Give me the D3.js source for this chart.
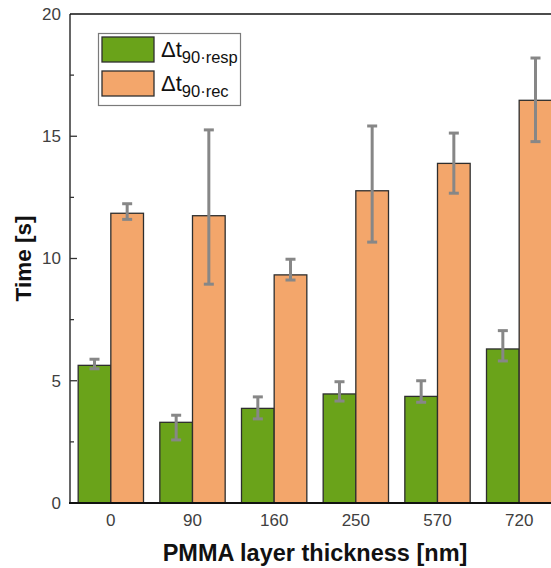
<!DOCTYPE html>
<html>
<head>
<meta charset="utf-8">
<script src="https://cdn.jsdelivr.net/npm/d3@7"></script>
<style>
  html, body { margin: 0; padding: 0; background: #fff; }
  svg { display: block; }
</style>
</head>
<body>
<svg id="chart" width="551" height="568"></svg>
<script>
// PMMA layer thickness (nm)
const categories = ["0", "90", "160", "250", "570", "720"];
const seriesNames = ["resp", "rec"];

// Δt90 response time (s) with lower/upper error limits
const respValues = [5.63, 3.30, 3.87, 4.46, 4.36, 6.30];
const respLow    = [5.49, 2.58, 3.44, 4.17, 4.12, 5.81];
const respHigh   = [5.88, 3.59, 4.34, 4.96, 5.00, 7.05];

// Δt90 recovery time (s) with lower/upper error limits
const recValues  = [11.85, 11.75, 9.33, 12.77, 13.89, 16.47];
const recLow     = [11.60, 8.95, 9.12, 10.67, 12.67, 14.78];
const recHigh    = [12.24, 15.26, 9.97, 15.42, 15.13, 18.20];

const yMajorTicks = [0, 5, 10, 15, 20];
const yMinorTicks = [2.5, 7.5, 12.5, 17.5];

const colors = { resp: "#6aa31a", rec: "#f3a66b" };

const svg = d3.select("#chart");
const plotLeft = 70, plotTop = 14, plotBottom = 503, plotRight = 560;

const x = d3.scaleBand().domain(categories).range([plotLeft, plotRight])
  .paddingInner(0.2).paddingOuter(0.1);
const xs = d3.scaleBand().domain(seriesNames).range([0, x.bandwidth()]);
const y = d3.scaleLinear().domain([0, 20]).range([plotBottom, plotTop]);

const rows = categories.map((c, i) => ({
  cat: c,
  resp: { v: respValues[i], lo: respLow[i], hi: respHigh[i] },
  rec:  { v: recValues[i],  lo: recLow[i],  hi: recHigh[i] }
}));

// bars
const groups = svg.append("g").selectAll("g").data(rows).join("g")
  .attr("transform", d => `translate(${x(d.cat)},0)`);

groups.selectAll("rect").data(d => seriesNames.map(s => ({ s, ...d[s] }))).join("rect")
  .attr("x", d => xs(d.s))
  .attr("width", xs.bandwidth())
  .attr("y", d => y(d.v))
  .attr("height", d => y(0) - y(d.v))
  .attr("fill", d => colors[d.s])
  .attr("stroke", "#2e2e2e")
  .attr("stroke-width", 1.3);

// error bars
const eb = groups.selectAll("g.err").data(d => seriesNames.map(s => ({ s, ...d[s] }))).join("g")
  .attr("class", "err")
  .attr("transform", d => `translate(${xs(d.s) + xs.bandwidth() / 2},0)`)
  .attr("stroke", "#878787").attr("stroke-width", 3);
eb.append("line").attr("y1", d => y(d.lo)).attr("y2", d => y(d.hi));
eb.append("line").attr("x1", -5).attr("x2", 5).attr("y1", d => y(d.lo)).attr("y2", d => y(d.lo));
eb.append("line").attr("x1", -5).attr("x2", 5).attr("y1", d => y(d.hi)).attr("y2", d => y(d.hi));

// frame: left axis, bottom axis, top border
svg.append("line").attr("x1", plotLeft).attr("x2", plotLeft).attr("y1", y(20)).attr("y2", y(0))
  .attr("stroke", "#333").attr("stroke-width", 1.5);
svg.append("line").attr("x1", plotLeft).attr("x2", 551).attr("y1", y(20)).attr("y2", y(20))
  .attr("stroke", "#111").attr("stroke-width", 1.5);
svg.append("line").attr("x1", plotLeft - 1).attr("x2", 551).attr("y1", y(0)).attr("y2", y(0))
  .attr("stroke", "#111").attr("stroke-width", 2);

// y ticks pointing inward
svg.append("g").selectAll("line.maj").data(yMajorTicks.slice(1, -1)).join("line")
  .attr("x1", plotLeft).attr("x2", plotLeft + 7).attr("y1", d => y(d)).attr("y2", d => y(d))
  .attr("stroke", "#333").attr("stroke-width", 1.3);
svg.append("g").selectAll("line.min").data(yMinorTicks).join("line")
  .attr("x1", plotLeft).attr("x2", plotLeft + 4).attr("y1", d => y(d)).attr("y2", d => y(d))
  .attr("stroke", "#333").attr("stroke-width", 1.3);

// y tick labels
svg.append("g").selectAll("text").data(yMajorTicks).join("text")
  .attr("x", 61).attr("y", d => y(d)).attr("dy", "0.35em")
  .attr("text-anchor", "end")
  .attr("font-family", "Liberation Sans, Arial, sans-serif")
  .attr("font-size", 17).attr("fill", "#404040")
  .text(d => d);

// x tick labels
svg.append("g").selectAll("text").data(categories).join("text")
  .attr("x", d => x(d) + x.bandwidth() / 2).attr("y", 525.5)
  .attr("text-anchor", "middle")
  .attr("font-family", "Liberation Sans, Arial, sans-serif")
  .attr("font-size", 17).attr("fill", "#404040")
  .text(d => d);

// axis titles
svg.append("text").attr("x", 315).attr("y", 561)
  .attr("text-anchor", "middle")
  .attr("font-family", "Liberation Sans, Arial, sans-serif")
  .attr("font-weight", "bold").attr("font-size", 23.5).attr("fill", "#111")
  .text("PMMA layer thickness [nm]");
svg.append("text")
  .attr("transform", `translate(31,${y(10)}) rotate(-90)`)
  .attr("text-anchor", "middle")
  .attr("font-family", "Liberation Sans, Arial, sans-serif")
  .attr("font-weight", "bold").attr("font-size", 22.5).attr("fill", "#111")
  .text("Time [s]");

// legend
const legend = svg.append("g");
legend.append("rect").attr("x", 98.5).attr("y", 33.5).attr("width", 142).attr("height", 72)
  .attr("fill", "#fff").attr("stroke", "#7a7a7a").attr("stroke-width", 1.2);
const legendItems = [
  { s: "resp", sub: "90·resp" },
  { s: "rec", sub: "90·rec" }
];
legendItems.forEach((it, i) => {
  const yy = 37 + i * 34;
  legend.append("rect").attr("x", 102).attr("y", yy).attr("width", 52).attr("height", 25)
    .attr("fill", colors[it.s]).attr("stroke", "#2e2e2e").attr("stroke-width", 1.3);
  const t = legend.append("text").attr("x", 161).attr("y", yy + 20)
    .attr("font-family", "Liberation Sans, Arial, sans-serif")
    .attr("fill", "#111");
  t.append("tspan").attr("font-size", 22).text("Δt");
  t.append("tspan").attr("font-size", 16.5).attr("dy", 6).text(it.sub);
});
</script>
</body>
</html>
